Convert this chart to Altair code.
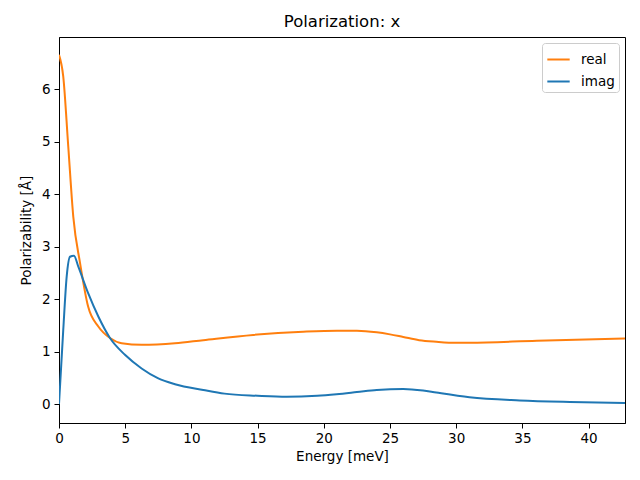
import altair as alt
import pandas as pd

real_x = [0, 0.32, 0.7, 1.08, 1.59, 2.2, 2.97, 3.85, 4.73, 6.25, 8.76, 10.9, 14.67, 18.45, 21.0, 22.5, 24.0, 25.0, 26.0, 27.2, 28.5, 30.0, 31.0, 36.1, 42.75]
real_y = [6.66, 6.25, 4.91, 3.57, 2.69, 1.86, 1.48, 1.26, 1.16, 1.13, 1.16, 1.22, 1.32, 1.38, 1.40, 1.40, 1.37, 1.33, 1.28, 1.22, 1.19, 1.17, 1.17, 1.21, 1.25]

imag_x = [0, 0.32, 0.58, 0.83, 1.13, 1.46, 2.21, 2.97, 3.85, 4.98, 6.24, 7.5, 8.76, 10.9, 12.5, 15.0, 17.2, 19.5, 20.96, 22.5, 24.0, 26.0, 27.5, 28.5, 31.0, 34.8, 38.6, 42.75]
imag_y = [0, 1.41, 2.43, 2.81, 2.83, 2.62, 2.11, 1.67, 1.26, 0.94, 0.68, 0.49, 0.38, 0.27, 0.2, 0.16, 0.14, 0.16, 0.19, 0.23, 0.27, 0.29, 0.26, 0.22, 0.13, 0.07, 0.04, 0.02]

series = ["real", "imag"]
colors = ["#ff7f0e", "#1f77b4"]
x_ticks = [0, 5, 10, 15, 20, 25, 30, 35, 40]
y_ticks = [0, 1, 2, 3, 4, 5, 6]

rows = []
for i, (x, y) in enumerate(zip(real_x, real_y)):
    rows.append({"energy": x, "value": y, "series": "real", "o": i})
for i, (x, y) in enumerate(zip(imag_x, imag_y)):
    rows.append({"energy": x, "value": y, "series": "imag", "o": i})
df = pd.DataFrame(rows)

FONT = "DejaVu Sans"

axis_common = dict(grid=False, tickSize=5, labelFontSize=13.5, titleFontSize=13.5,
                   titleFontWeight="normal", labelColor="black", titleColor="black",
                   domainColor="black", tickColor="black", labelFont=FONT, titleFont=FONT,
                   labelFlush=False, tickWidth=1, domainWidth=1)

chart = alt.Chart(df).mark_line(strokeWidth=2, interpolate="monotone", clip=True).encode(
    x=alt.X("energy:Q", title="Energy [meV]",
            scale=alt.Scale(domain=[0, 42.75], nice=False, zero=False),
            axis=alt.Axis(values=x_ticks, titlePadding=5, labelPadding=3, **axis_common)),
    y=alt.Y("value:Q", title="Polarizability [Å]",
            scale=alt.Scale(domain=[-0.36, 7.0], nice=False, zero=False),
            axis=alt.Axis(values=y_ticks, titlePadding=8, labelPadding=4, **axis_common)),
    color=alt.Color("series:N", scale=alt.Scale(domain=series, range=colors),
                    sort=series,
                    legend=alt.Legend(title=None, orient="top-right", offset=6,
                                      symbolType="stroke", symbolSize=500,
                                      symbolStrokeWidth=2, labelFontSize=13.5,
                                      labelFont=FONT, labelColor="black",
                                      fillColor="white", strokeColor="#cccccc",
                                      cornerRadius=3, padding=4, rowPadding=3,
                                      labelOffset=10)),
    order="o:Q",
    detail="series:N",
).properties(
    width=566, height=386,
    title=alt.TitleParams("Polarization: x", fontSize=16.5, font=FONT, fontWeight="normal",
                          color="black", anchor="middle", offset=7),
    autosize=alt.AutoSizeParams(type="none"),
    padding={"left": 51, "top": 29, "right": 7, "bottom": 49},
).configure_view(stroke="black", strokeWidth=1)

chart.save("out.html", embed_options={"renderer": "svg", "actions": False})
